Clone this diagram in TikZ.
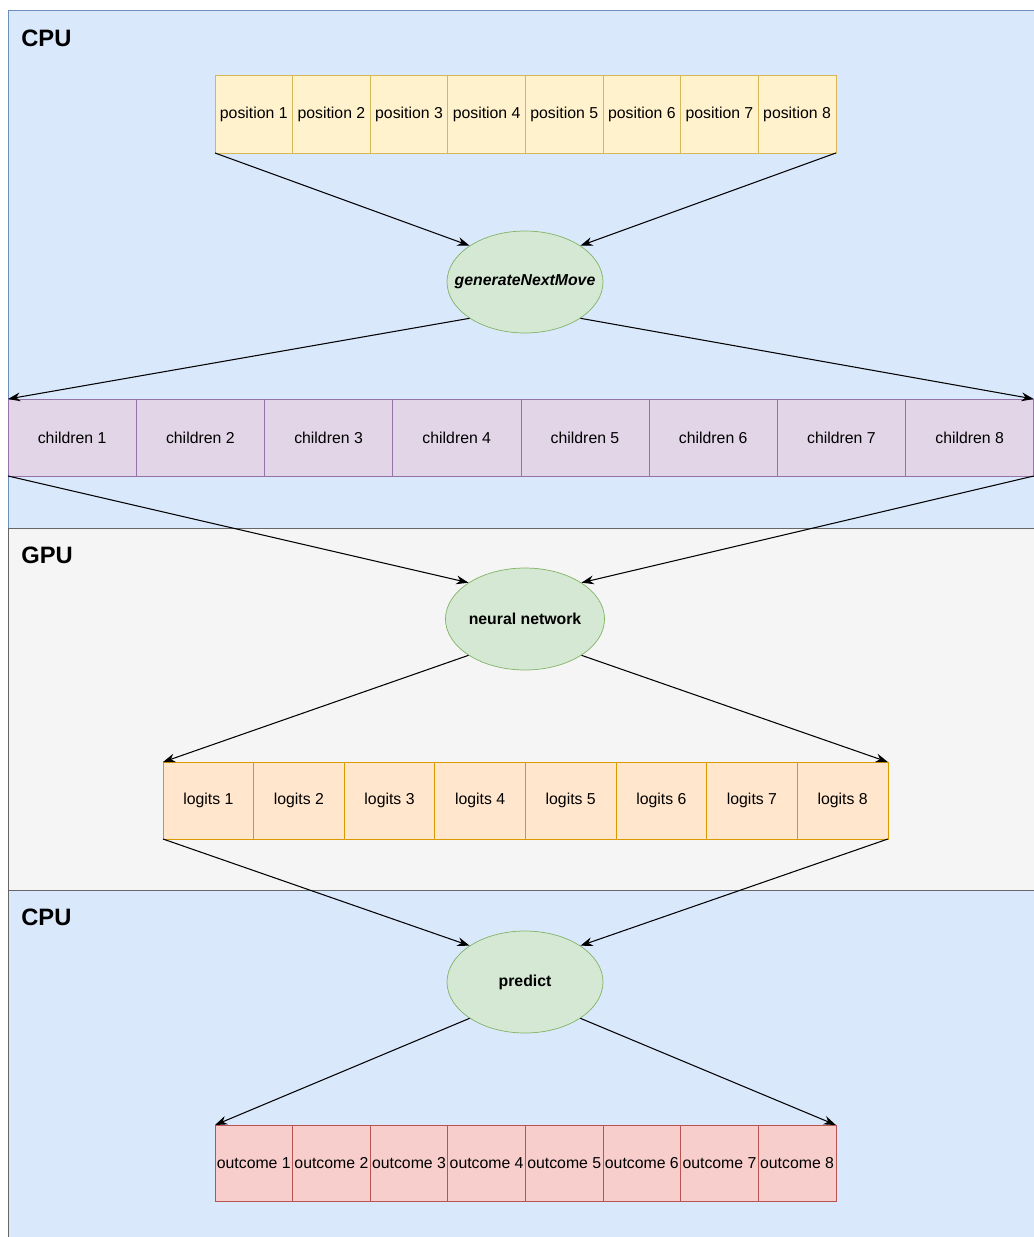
\documentclass[tikz,border=0pt]{standalone}
\usepackage{fontspec}
\setmainfont{Liberation Sans}
\usetikzlibrary{positioning,shapes.geometric,arrows.meta}

\definecolor{cpufill}{HTML}{DAE8FC}
\definecolor{cpuline}{HTML}{6C8EBF}
\definecolor{gpufill}{HTML}{F5F5F5}
\definecolor{gpuline}{HTML}{666666}
\definecolor{posfill}{HTML}{FFF2CC}
\definecolor{posline}{HTML}{D6B656}
\definecolor{opfill}{HTML}{D5E8D4}
\definecolor{opline}{HTML}{82B366}
\definecolor{chfill}{HTML}{E1D5E7}
\definecolor{chline}{HTML}{9673A6}
\definecolor{lgfill}{HTML}{FFE6CC}
\definecolor{lgline}{HTML}{D79B00}
\definecolor{outfill}{HTML}{F8CECC}
\definecolor{outline}{HTML}{B85450}

\begin{document}
\begin{tikzpicture}[
  x=0.02cm, y=-0.02cm,
  every node/.style={font=\fontsize{9}{11}\selectfont},
  cell/.style={rectangle, outer sep=0pt, inner sep=0pt, minimum height=1.56cm},
  poscell/.style={cell, draw=posline, fill=posfill, minimum width=1.5525cm},
  chcell/.style={cell, draw=chline, fill=chfill, minimum width=2.565cm, minimum height=1.54cm},
  lgcell/.style={cell, draw=lgline, fill=lgfill, minimum width=1.8125cm, minimum height=1.54cm},
  outcell/.style={cell, draw=outline, fill=outfill, minimum width=1.5525cm, minimum height=1.52cm},
  op/.style={ellipse, draw=opline, fill=opfill, minimum width=3.12cm, minimum height=2.04cm, inner sep=0pt, font=\fontsize{9}{11}\selectfont\bfseries},
  zone/.style={font=\fontsize{13.5}{16}\selectfont\bfseries, anchor=west, inner sep=0pt},
  ar/.style={->, >={Stealth[length=7pt, width=5pt]}, line width=0.6pt}
]
  \useasboundingbox (0,0) rectangle (1034,1237);
  % processor zones
  \draw[cpuline, fill=cpufill] (8,10) rectangle (1045,528);
  \draw[gpuline, fill=gpufill] (8,528) rectangle (1045,890);
  \draw[gpuline, fill=cpufill] (8,890) rectangle (1045,1250);
  \node[zone] (cpuA) at (21,38) {CPU};
  \node[zone] (gpu) at (21,555) {GPU};
  \node[zone] (cpuB) at (21,917) {CPU};

  % positions
  \node[poscell] (pos1) at (253.8,114) {position 1};
  \foreach \i [remember=\i as \j (initially 1)] in {2,...,8}
    \node[poscell, right=0pt of pos\j] (pos\i) {position \i};

  \node[op, font=\fontsize{9}{11}\selectfont\bfseries\itshape] (gen) at (525,282) {\makebox[0pt]{generateNextMove}};

  % children
  \node[chcell] (ch1) at (72.1,437.5) {children 1};
  \foreach \i [remember=\i as \j (initially 1)] in {2,...,8}
    \node[chcell, right=0pt of ch\j] (ch\i) {children \i};

  \node[op] (nn) at (525,619) {neural network};

  % logits
  \node[lgcell] (lg1) at (208.3,800.5) {logits 1};
  \foreach \i [remember=\i as \j (initially 1)] in {2,...,8}
    \node[lgcell, right=0pt of lg\j] (lg\i) {logits \i};

  \node[op] (pred) at (525,982) {predict};

  % outcomes
  \node[outcell] (out1) at (253.8,1163) {outcome 1};
  \foreach \i [remember=\i as \j (initially 1)] in {2,...,8}
    \node[outcell, right=0pt of out\j] (out\i) {outcome \i};

  \draw[ar] (pos1.south west) -- (gen.north west);
  \draw[ar] (pos8.south east) -- (gen.north east);
  \draw[ar] (gen.south west) -- (ch1.north west);
  \draw[ar] (gen.south east) -- (ch8.north east);
  \draw[ar] (ch1.south west) -- (nn.north west);
  \draw[ar] (ch8.south east) -- (nn.north east);
  \draw[ar] (nn.south west) -- (lg1.north west);
  \draw[ar] (nn.south east) -- (lg8.north east);
  \draw[ar] (lg1.south west) -- (pred.north west);
  \draw[ar] (lg8.south east) -- (pred.north east);
  \draw[ar] (pred.south west) -- (out1.north west);
  \draw[ar] (pred.south east) -- (out8.north east);
\end{tikzpicture}
\end{document}
